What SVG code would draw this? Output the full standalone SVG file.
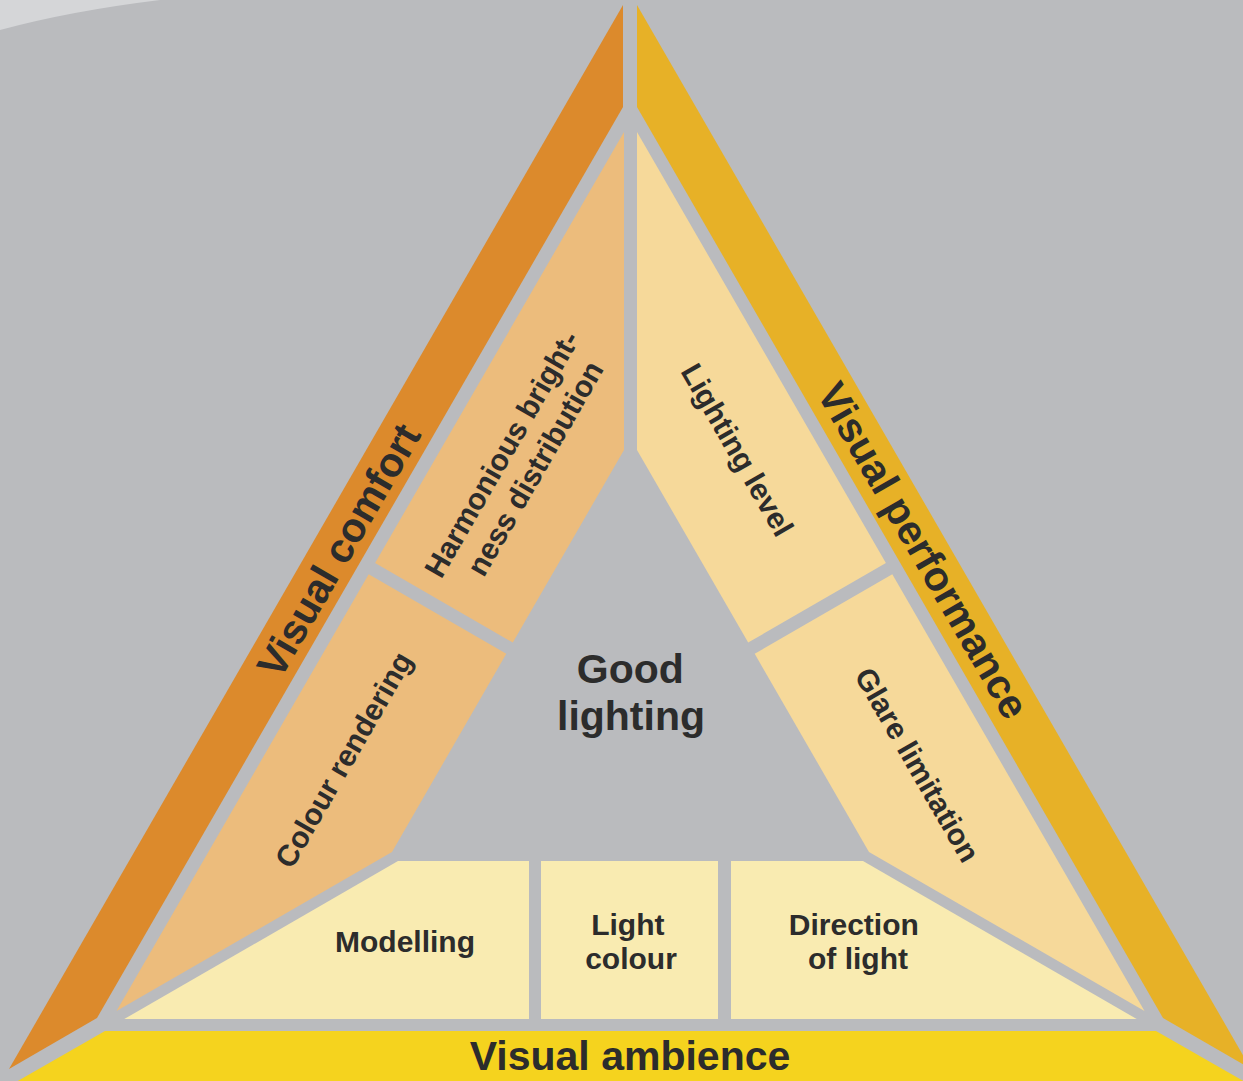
<svg xmlns="http://www.w3.org/2000/svg" width="1243" height="1081" viewBox="0 0 1243 1081">
  <style>
    .lbl { font-family: "Liberation Sans", Arial, Helvetica, sans-serif; font-weight: bold; fill: #2c2c2c; text-anchor: middle; }
    .big { font-size: 41px; }
    .mid { font-size: 30px; }
    .comfort { fill: #dc8a2c; }
    .perf { fill: #e7b127; }
    .amb { fill: #f5d31e; }
    .peach { fill: #ecbc7c; }
    .apricot { fill: #f6d99a; }
    .pale { fill: #f9ebb1; }
  </style>

  <!-- backdrop -->
  <rect x="0" y="0" width="1243" height="1081" fill="#babbbe"/>
  <path d="M0,0 H160 Q70,11 0,30 Z" fill="#d5d6d8"/>

  <!-- outer bands -->
  <g id="visual-comfort">
    <polygon class="comfort" points="623,5 623,107 97,1018 9,1069"/>
    <text class="lbl big" transform="translate(338,550) rotate(-60)" x="0" y="15">Visual comfort</text>
  </g>
  <g id="visual-performance">
    <polygon class="perf" points="637,5 637,107 1163,1018 1251,1069"/>
    <text class="lbl big" transform="translate(924,550) rotate(60)" x="0" y="15">Visual performance</text>
  </g>
  <g id="visual-ambience">
    <polygon class="amb" points="105,1031 1156,1031 1245,1082 16,1082"/>
    <text class="lbl big" x="630" y="1070">Visual ambience</text>
  </g>

  <!-- left inner pieces -->
  <g id="harmonious-brightness">
    <polygon class="peach" points="624,132 624,450 512.8,642.6 375.1,563"/>
    <text class="lbl mid" transform="translate(519,459) rotate(-60)">
      <tspan x="0" y="-7">Harmonious bright-</tspan>
      <tspan x="0" y="29">ness distribution</tspan>
    </text>
  </g>
  <g id="colour-rendering">
    <polygon class="peach" points="368.7,574.3 506.3,653.8 392,852 116.5,1011"/>
    <text class="lbl mid" transform="translate(344,760) rotate(-60)" x="0" y="10">Colour rendering</text>
  </g>

  <!-- right inner pieces -->
  <g id="lighting-level">
    <polygon class="apricot" points="637,132 637,450 748.2,642.6 885.9,563"/>
    <text class="lbl mid" transform="translate(737,450) rotate(60)" x="0" y="10">Lighting level</text>
  </g>
  <g id="glare-limitation">
    <polygon class="apricot" points="892.3,574.3 1144.5,1011 869,852 754.7,653.8"/>
    <text class="lbl mid" transform="translate(917,765) rotate(60)" x="0" y="10">Glare limitation</text>
  </g>

  <!-- bottom inner pieces -->
  <g id="modelling">
    <polygon class="pale" points="398,861 529,861 529,1019 124.3,1019"/>
    <text class="lbl mid" x="405" y="952">Modelling</text>
  </g>
  <g id="light-colour">
    <rect class="pale" x="541" y="861" width="177" height="158"/>
    <text class="lbl mid">
      <tspan x="632" y="935">Light</tspan>
      <tspan x="631" y="969">colour</tspan>
    </text>
  </g>
  <g id="direction-of-light">
    <polygon class="pale" points="731,861 863,861 1136.7,1019 731,1019"/>
    <text class="lbl mid">
      <tspan x="858" y="935">Direction</tspan>
      <tspan x="858" y="969">of light</tspan>
    </text>
  </g>

  <!-- centre -->
  <g id="good-lighting">
    <text class="lbl big">
      <tspan x="636" y="683">Good</tspan>
      <tspan x="631" y="730">lighting</tspan>
    </text>
  </g>

  <g id="connectors"></g>
</svg>
